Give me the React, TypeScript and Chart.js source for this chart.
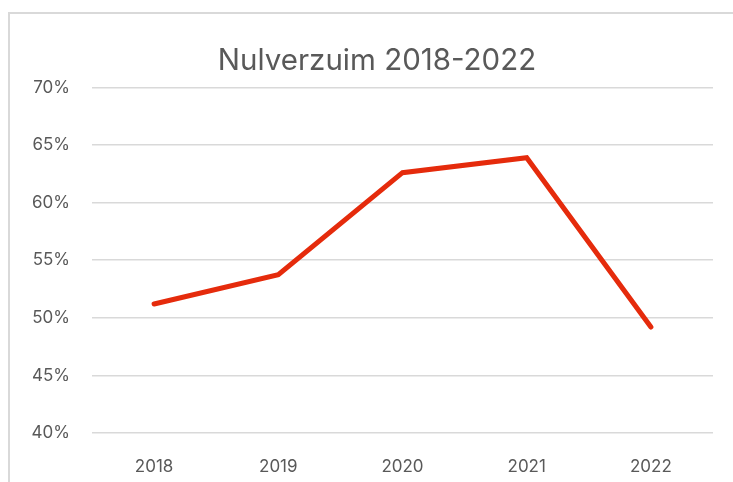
import React, { useEffect, useRef } from "react";
import { Chart, registerables } from "chart.js";

Chart.register(...registerables);

const years = ["2018", "2019", "2020", "2021", "2022"];
const nulverzuim = [51.2, 53.75, 62.6, 63.9, 49.2];
const yMin = 40;
const yMax = 70;
const yStep = 5;
const title = "Nulverzuim 2018-2022";

const FONT = "Inter, sans-serif";
const TEXT = "#595959";

const shiftTitle = {
  id: "shiftTitle",
  beforeDraw(chart: any) {
    const t = chart.titleBlock;
    if (t) {
      t.left = 21;
      t.right = 733;
    }
  },
};

export default function App() {
  const ref = useRef<HTMLCanvasElement | null>(null);
  useEffect(() => {
    if (!ref.current) return;
    const chart = new Chart(ref.current, {
      type: "line",
      data: {
        labels: years,
        datasets: [
          {
            data: nulverzuim,
            borderColor: "#e52b0c",
            borderWidth: 5,
            borderCapStyle: "round",
            borderJoinStyle: "miter",
            pointRadius: 0,
            pointHoverRadius: 0,
            tension: 0,
            fill: false,
          },
        ],
      },
      options: {
        responsive: false,
        animation: false,
        layout: { padding: { left: 0, right: 20, top: 43, bottom: 0 } },
        plugins: {
          legend: { display: false },
          tooltip: { enabled: false },
          title: {
            display: true,
            text: title,
            color: TEXT,
            font: { family: FONT, size: 29.5, weight: "normal", lineHeight: 1.2 },
            padding: { top: 0, bottom: 9 },
          },
        },
        scales: {
          x: {
            offset: true,
            grid: { display: false, drawTicks: false },
            border: { display: false },
            ticks: {
              color: TEXT,
              font: { family: FONT, size: 17 },
              padding: 24,
              maxRotation: 0,
            },
            afterFit: (s: any) => {
              s.height = 49;
            },
          },
          y: {
            min: yMin,
            max: yMax,
            grid: { color: "#d9d9d9", lineWidth: 1.5, drawTicks: false },
            border: { display: false },
            ticks: {
              stepSize: yStep,
              color: TEXT,
              font: { family: FONT, size: 17 },
              padding: 22,
              callback: (v: any) => v + "%",
            },
            afterFit: (s: any) => {
              s.width = 92;
            },
          },
        },
      },
      plugins: [shiftTitle],
    });
    return () => chart.destroy();
  }, []);
  return (
    <div style={{ position: "fixed", left: 0, top: 0, width: 733, height: 482, background: "#fff", overflow: "hidden" }}>
      <div
        style={{
          position: "absolute",
          left: 8,
          top: 12,
          width: 800,
          height: 600,
          borderLeft: "2px solid #d9d9d9",
          borderTop: "2px solid #d9d9d9",
          boxSizing: "border-box",
        }}
      />
      <canvas ref={ref} width={733} height={482} style={{ position: "absolute", left: 0, top: 0 }} />
    </div>
  );
}
